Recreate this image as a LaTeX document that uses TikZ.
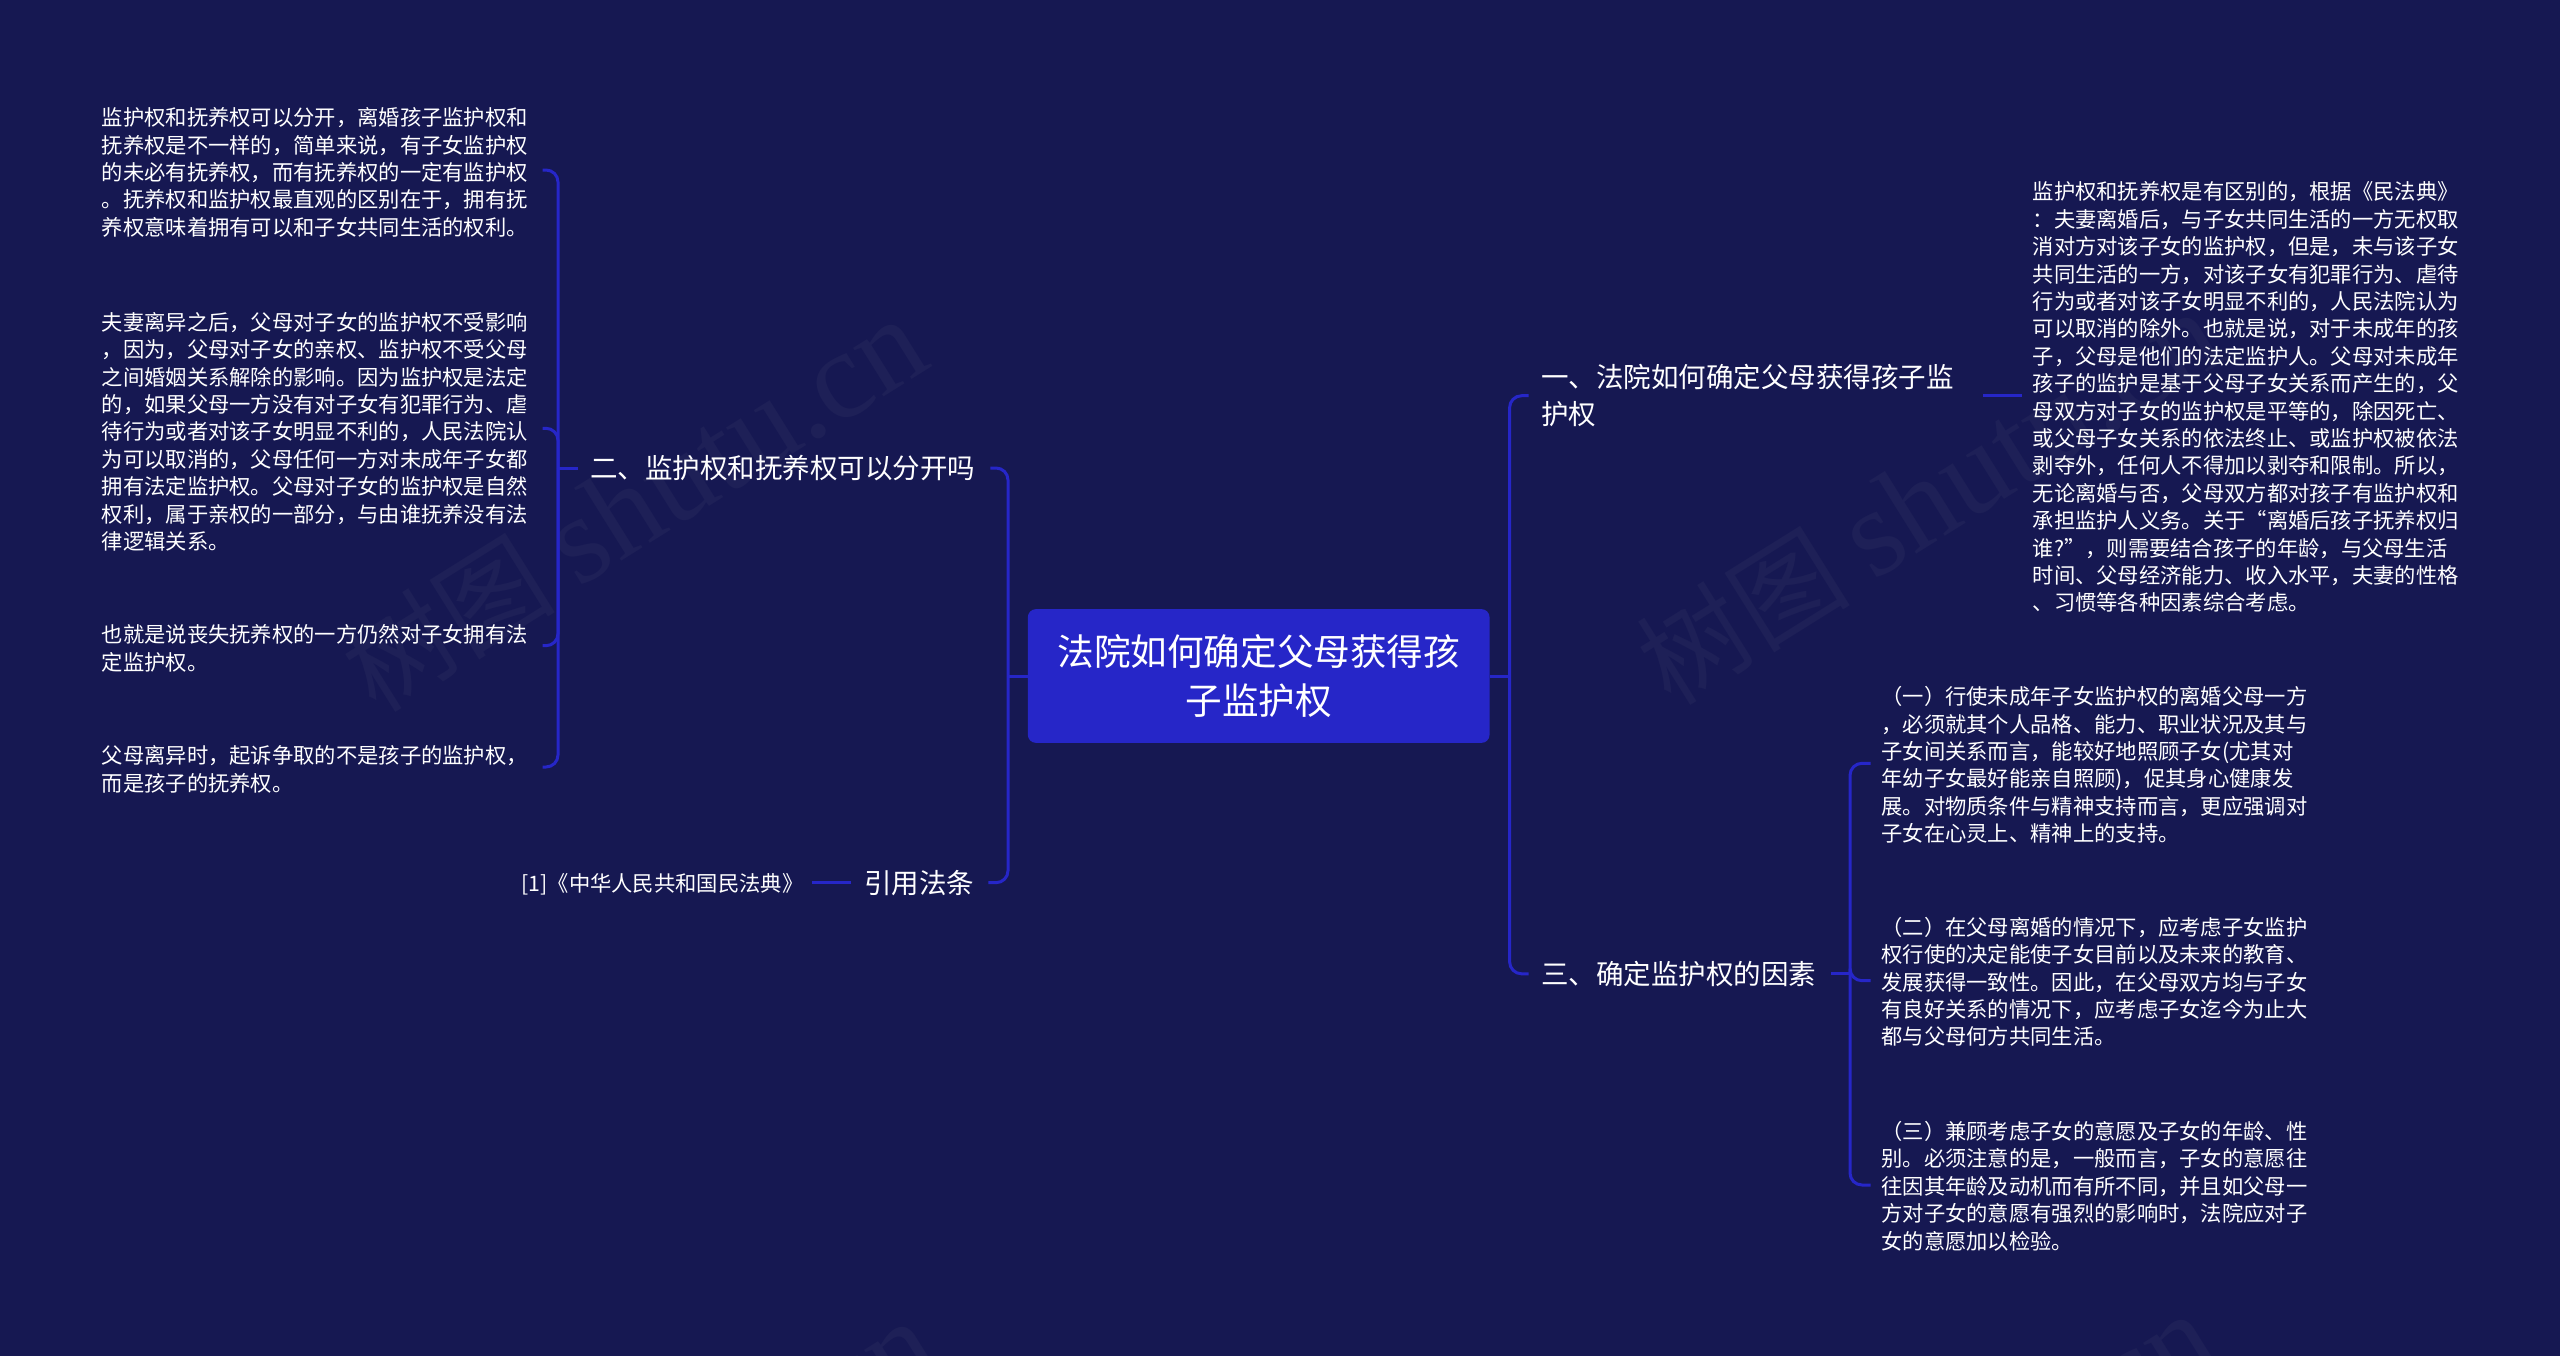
\documentclass[tikz,border=0pt]{standalone}
\usepackage{fontspec}
\setmainfont{Noto Sans CJK SC}
\newfontfamily\latinmark{Liberation Serif}
\definecolor{bgcol}{HTML}{161852}
\definecolor{boxcol}{HTML}{2626C8}
\definecolor{markcol}{HTML}{1E2057}
\tikzset{
	link/.style={line width=3pt,boxcol,rounded corners=12pt},
	rootbox/.style={fill=boxcol,text=white,rounded corners=8pt,align=center,inner sep=0pt,
		minimum width=461.7pt,minimum height=133.7pt,font=\fontsize{36.6}{48.3}\selectfont},
	branch/.style={anchor=west,text=white,align=left,inner xsep=12.5pt,inner ysep=0pt,
		font=\fontsize{27.5}{36.7}\selectfont},
	leaf/.style={anchor=west,text=white,align=left,inner xsep=10.5pt,inner ysep=0pt,
		text width=430pt,font=\fontsize{21.3}{27.4}\selectfont},
	cite/.style={anchor=east,text=white,inner xsep=8.5pt,inner ysep=0pt,
		font=\fontsize{21.3}{27.4}\selectfont},
	wmark/.style={anchor=west,rotate=32,text=markcol,inner sep=0pt,font=\fontsize{107}{107}\selectfont}
}
\begin{document}
\begin{tikzpicture}[x=1pt,y=-1pt]
	\useasboundingbox (0,0) rectangle (2560,1355);
	\fill[bgcol] (-5,-5) rectangle (2565,1360);

	% watermark
	\begin{scope}
		\clip (0,0) rectangle (2560,1355);
		\foreach \mx/\my/\mn in {355/680/a,1650/673/b,366/1682/c,1645/1675/d}
			\node[wmark] (wm\mn) at (\mx,\my) {树图 {\latinmark\fontsize{125}{125}\selectfont shutu.cn}};
	\end{scope}

	\node[rootbox] (root) at (1258.7,676) {法院如何确定父母获得孩\\子监护权};

	% right side
	\node[branch,text width=429pt] (one) at (1528.7,395.7) {一、法院如何确定父母获得孩子监\\护权};
	\node[branch,text width=277.3pt] (three) at (1528.5,973.8) {三、确定监护权的因素};
	\node[leaf] (civil) at (2022,397.2) {监护权和抚养权是有区别的，根据《民法典》\\：夫妻离婚后，与子女共同生活的一方无权取\\消对方对该子女的监护权，但是，未与该子女\\共同生活的一方，对该子女有犯罪行为、虐待\\行为或者对该子女明显不利的，人民法院认为\\可以取消的除外。也就是说，对于未成年的孩\\子，父母是他们的法定监护人。父母对未成年\\孩子的监护是基于父母子女关系而产生的，父\\母双方对子女的监护权是平等的，除因死亡、\\或父母子女关系的依法终止、或监护权被依法\\剥夺外，任何人不得加以剥夺和限制。所以，\\无论离婚与否，父母双方都对孩子有监护权和\\承担监护人义务。关于“离婚后孩子抚养权归\\谁?”，则需要结合孩子的年龄，与父母生活\\时间、父母经济能力、收入水平，夫妻的性格\\、习惯等各种因素综合考虑。};
	\node[leaf] (factorA) at (1870.7,764.9) {（一）行使未成年子女监护权的离婚父母一方\\，必须就其个人品格、能力、职业状况及其与\\子女间关系而言，能较好地照顾子女(尤其对\\年幼子女最好能亲自照顾)，促其身心健康发\\展。对物质条件与精神支持而言，更应强调对\\子女在心灵上、精神上的支持。};
	\node[leaf] (factorB) at (1870.7,981.8) {（二）在父母离婚的情况下，应考虑子女监护\\权行使的决定能使子女目前以及未来的教育、\\发展获得一致性。因此，在父母双方均与子女\\有良好关系的情况下，应考虑子女迄今为止大\\都与父母何方共同生活。};
	\node[leaf] (factorC) at (1870.7,1186) {（三）兼顾考虑子女的意愿及子女的年龄、性\\别。必须注意的是，一般而言，子女的意愿往\\往因其年龄及动机而有所不同，并且如父母一\\方对子女的意愿有强烈的影响时，法院应对子\\女的意愿加以检验。};

	% left side
	\node[branch,text width=387.5pt] (two) at (577.5,468) {二、监护权和抚养权可以分开吗};
	\node[branch,text width=111.6pt] (law) at (851.4,882.7) {引用法条};
	\node[cite] (code) at (812,884.5) {[1]《中华人民共和国民法典》};
	\node[leaf] (splitA) at (91.1,172.3) {监护权和抚养权可以分开，离婚孩子监护权和\\抚养权是不一样的，简单来说，有子女监护权\\的未必有抚养权，而有抚养权的一定有监护权\\。抚养权和监护权最直观的区别在于，拥有抚\\养权意味着拥有可以和子女共同生活的权利。};
	\node[leaf] (splitB) at (91.1,431.7) {夫妻离异之后，父母对子女的监护权不受影响\\，因为，父母对子女的亲权、监护权不受父母\\之间婚姻关系解除的影响。因为监护权是法定\\的，如果父母一方没有对子女有犯罪行为、虐\\待行为或者对该子女明显不利的，人民法院认\\为可以取消的，父母任何一方对未成年子女都\\拥有法定监护权。父母对子女的监护权是自然\\权利，属于亲权的一部分，与由谁抚养没有法\\律逻辑关系。};
	\node[leaf] (splitC) at (91.1,648.3) {也就是说丧失抚养权的一方仍然对子女拥有法\\定监护权。};
	\node[leaf] (splitD) at (91.1,769.5) {父母离异时，起诉争取的不是孩子的监护权，\\而是孩子的抚养权。};

	\coordinate (hubL) at (1008,676);
	\coordinate (hubR) at (1509.6,676);
	\coordinate (hubTwo) at (558,468);
	\coordinate (hubThree) at (1850,973.8);

	\draw[link] (root.east) -- (hubR);
	\draw[link] (hubR) |- (one.west);
	\draw[link] (hubR) |- (three.west);
	\draw[link] (one.east) -- (one.east -| civil.west);
	\draw[link] (three.east) -- (hubThree);
	\draw[link] (hubThree) |- ([yshift=1.6pt]factorA.west);
	\draw[link] (hubThree) |- ([yshift=1.1pt]factorB.west);
	\draw[link] (hubThree) |- ([yshift=1pt]factorC.west);

	\draw[link] (root.west) -- (hubL);
	\draw[link] (hubL) |- (two.east);
	\draw[link] (hubL) |- (law.east);
	\draw[link] (law.west) -- (law.west -| code.east);
	\draw[link] (two.west) -- (hubTwo);
	\draw[link] (hubTwo) |- ([yshift=2.3pt]splitA.east);
	\draw[link] (hubTwo) |- ([yshift=3.4pt]splitB.east);
	\draw[link] (hubTwo) |- ([yshift=2.6pt]splitC.east);
	\draw[link] (hubTwo) |- ([yshift=2.5pt]splitD.east);
\end{tikzpicture}
\end{document}
